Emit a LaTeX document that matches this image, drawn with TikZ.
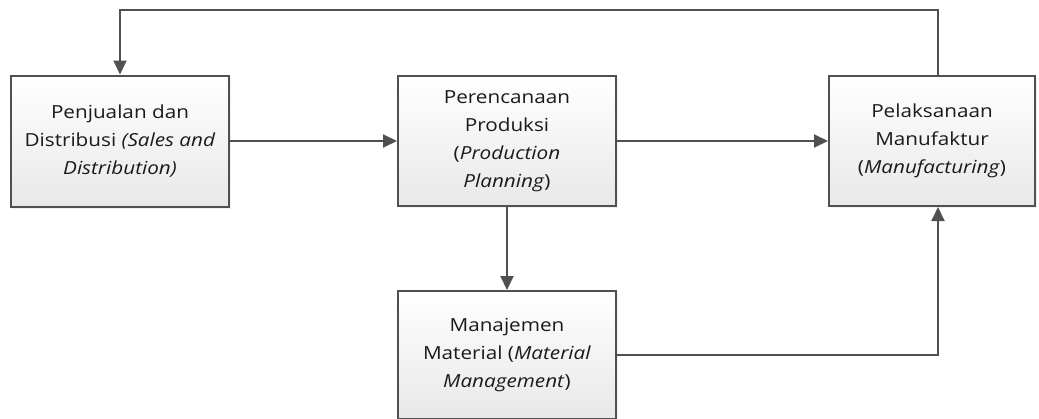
\documentclass[tikz,border=0pt]{standalone}
\usepackage{fontspec}
\setmainfont{Open Sans}[FakeStretch=1.15]
\usetikzlibrary{arrows.meta,shadows}

\definecolor{linegray}{HTML}{505050}
\definecolor{textgray}{HTML}{1A1A1A}

\tikzset{
  box/.style={draw=linegray, line width=2pt, top color=white, bottom color=black!9,
    align=center, inner sep=0pt, text=textgray,
    font=\fontsize{18}{28}\selectfont,
    drop shadow={opacity=0.12, shadow xshift=2pt, shadow yshift=-2pt}},
  arr/.style={draw=linegray, line width=2pt, -{Triangle[length=14pt,width=13pt]}}
}

\begin{document}
\begin{tikzpicture}[x=1pt,y=-1pt]
                \useasboundingbox (0,0) rectangle (1039,418);
                \node[box,minimum width=218pt,minimum height=131pt] (sales) at (120,141) {Penjualan dan\\Distribusi \textit{(Sales and}\\\textit{Distribution)}};
                \node[box,minimum width=218pt,minimum height=130pt] (plan) at (507,141) {Perencanaan\\Produksi\\(\textit{Production}\\\textit{Planning})};
                \node[box,minimum width=206pt,minimum height=130pt] (manuf) at (932,141) {Pelaksanaan\\Manufaktur\\(\textit{Manufacturing})};
                \node[box,minimum width=218pt,minimum height=128pt] (material) at (507,355) {Manajemen\\Material (\textit{Material}\\\textit{Management})};
                \coordinate (topR) at (938,10);
                \coordinate (topL) at (120,10);
                \draw[arr] (manuf.north -| topR) -- (topR) -- (topL) -- (sales.north);
                \draw[arr] (sales) -- (plan);
                \draw[arr] (plan) -- (manuf);
                \draw[arr] (plan) -- (material);
                \draw[arr] (material.east) -| (manuf.south -| topR);
\end{tikzpicture}
\end{document}
